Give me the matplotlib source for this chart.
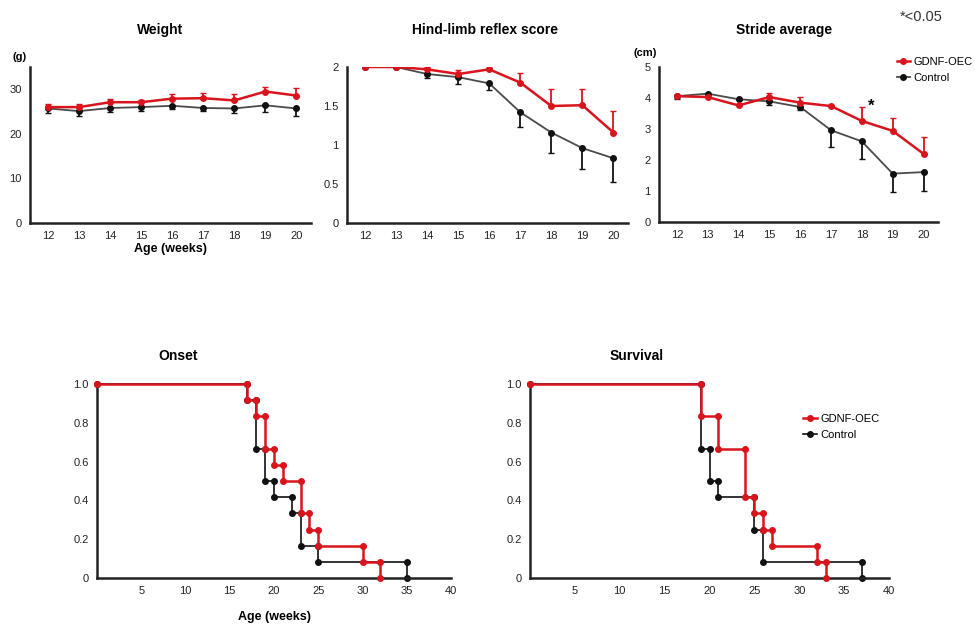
# Motor function and Kaplan-Meier curves, GDNF-OEC vs Control
import numpy as np
import matplotlib
matplotlib.use('Agg')
import matplotlib.pyplot as plt
from matplotlib.lines import Line2D

## data

weeks = [12, 13, 14, 15, 16, 17, 18, 19, 20]

weight_oec = [26.0, 26.0, 27.1, 27.1, 27.9, 28.0, 27.5, 29.5, 28.6]
weight_oec_err = [0.7, 0.7, 0.8, 0.6, 1.1, 1.1, 1.5, 1.0, 1.6]
weight_ctl = [25.7, 25.1, 25.8, 26.0, 26.3, 25.8, 25.7, 26.4, 25.7]
weight_ctl_err = [1.0, 1.0, 0.8, 0.9, 0.8, 0.7, 1.1, 1.5, 1.7]

reflex_oec = [2.0, 2.0, 1.97, 1.91, 1.97, 1.80, 1.50, 1.51, 1.16]
reflex_oec_err = [0, 0, 0.03, 0.05, 0.02, 0.12, 0.22, 0.21, 0.27]
reflex_ctl = [2.0, 2.0, 1.91, 1.87, 1.79, 1.42, 1.16, 0.96, 0.83]
reflex_ctl_err = [0, 0, 0.05, 0.09, 0.09, 0.19, 0.26, 0.27, 0.30]

stride_oec = [4.06, 4.03, 3.76, 4.03, 3.85, 3.74, 3.26, 2.94, 2.20]
stride_oec_err = [0.05, 0, 0, 0.13, 0.18, 0.05, 0.45, 0.43, 0.54]
stride_ctl = [4.06, 4.14, 3.96, 3.89, 3.71, 2.96, 2.60, 1.56, 1.61]
stride_ctl_err = [0.1, 0, 0, 0.1, 0.09, 0.54, 0.58, 0.59, 0.61]

# Kaplan-Meier steps: time of each drop, fraction after the drop
onset_oec_t = [0, 17, 18, 19, 20, 21, 23, 24, 25, 30, 32]
onset_oec_s = [1.0, 0.917, 0.833, 0.667, 0.583, 0.5, 0.333, 0.25, 0.167, 0.083, 0.0]
onset_ctl_t = [0, 17, 18, 19, 20, 22, 23, 25, 35]
onset_ctl_s = [1.0, 0.917, 0.667, 0.5, 0.417, 0.333, 0.167, 0.083, 0.0]

surv_oec_t = [0, 19, 21, 24, 25, 26, 27, 32, 33]
surv_oec_s = [1.0, 0.833, 0.667, 0.417, 0.333, 0.25, 0.167, 0.083, 0.0]
surv_ctl_t = [0, 19, 20, 21, 25, 26, 37]
surv_ctl_s = [1.0, 0.667, 0.5, 0.417, 0.25, 0.083, 0.0]

## style

RED = '#d8141c'
BLACK = '#111111'
GREY = '#4a4a4a'
W, H = 975, 627
plt.rcParams['font.family'] = ['Liberation Sans', 'DejaVu Sans']

fig = plt.figure(figsize=(W / 100, H / 100), dpi=100)


def px_axes(x0, y0, x1, y1):
    # axes from pixel box (top-left origin)
    return fig.add_axes([x0 / W, 1 - y1 / H, (x1 - x0) / W, (y1 - y0) / H])


def style(ax):
    for s in ['top', 'right']:
        ax.spines[s].set_visible(False)
    for s in ['left', 'bottom']:
        ax.spines[s].set_linewidth(1.8)
        ax.spines[s].set_color('#222222')
    ax.tick_params(length=0, labelsize=8, pad=6, colors='#222222')


def line_panel(ax, oec, oec_err, ctl, ctl_err):
    ax.errorbar(weeks, ctl, yerr=[ctl_err, [0] * len(ctl)], color=GREY, lw=1.3,
                marker='o', ms=4, mfc=BLACK, mec=BLACK, ecolor=BLACK,
                elinewidth=1.3, capsize=2.5, zorder=2)
    ax.errorbar(weeks, oec, yerr=[[0] * len(oec), oec_err], color=RED, lw=1.8,
                marker='o', ms=4, ecolor=RED, elinewidth=1.3, capsize=2.5,
                zorder=3)
    ax.set_xlim(11.42, 20.47)
    ax.set_xticks(weeks)
    style(ax)


leg_handles = [Line2D([], [], color=RED, lw=1.8, marker='o', ms=4),
               Line2D([], [], color=GREY, lw=1.3, marker='o', ms=4, mfc=BLACK, mec=BLACK)]
leg_labels = ['GDNF-OEC', 'Control']

# Weight
ax1 = px_axes(30, 67, 311, 223)
line_panel(ax1, weight_oec, weight_oec_err, weight_ctl, weight_ctl_err)
ax1.set_ylim(0, 35)
ax1.set_yticks([0, 10, 20, 30])
ax1.set_xlabel('Age (weeks)', fontsize=9, fontweight='bold', labelpad=1)
fig.text(160 / W, 1 - 30 / H, 'Weight', fontsize=10, fontweight='bold', ha='center', va='center')
fig.text(20 / W, 1 - 57 / H, '(g)', fontsize=8, fontweight='bold', ha='center', va='center')

# Hind-limb reflex score
ax2 = px_axes(347, 67, 628, 223)
line_panel(ax2, reflex_oec, reflex_oec_err, reflex_ctl, reflex_ctl_err)
ax2.set_ylim(0, 2.0)
ax2.set_yticks([0, 0.5, 1, 1.5, 2])
ax2.set_yticklabels(['0', '0.5', '1', '1.5', '2'])
fig.text(485 / W, 1 - 30 / H, 'Hind-limb reflex score', fontsize=10, fontweight='bold', ha='center', va='center')

# Stride average
ax3 = px_axes(659, 67, 938, 222)
line_panel(ax3, stride_oec, stride_oec_err, stride_ctl, stride_ctl_err)
ax3.set_ylim(0, 5)
ax3.set_yticks([0, 1, 2, 3, 4, 5])
ax3.text(18.3, 3.72, '*', fontsize=12, fontweight='bold', ha='center', va='center')
fig.text(784 / W, 1 - 30 / H, 'Stride average', fontsize=10, fontweight='bold', ha='center', va='center')
fig.text(645 / W, 1 - 53 / H, '(cm)', fontsize=8, fontweight='bold', ha='center', va='center')
fig.text(921 / W, 1 - 17 / H, '*<0.05', fontsize=10.5, ha='center', va='center', color='#333333')
fig.legend(leg_handles, leg_labels, loc='upper left', bbox_to_anchor=(891 / W, 1 - 51 / H),
           frameon=False, fontsize=8, handlelength=1.2, handletextpad=0.3,
           labelspacing=0.6, borderpad=0)


def km_panel(ax, oec_t, oec_s, ctl_t, ctl_s):
    for t, s, c, lw, z in [(ctl_t, ctl_s, BLACK, 1.2, 2),
                           (oec_t, oec_s, RED, 1.8, 3)]:
        ax.step(t, s, where='post', color=c, lw=lw, zorder=z)
        # dots at both corners of each drop
        xs = [t[0]] + [v for v in t[1:] for _ in range(2)]
        ys = [s[0]] + [y for i in range(1, len(t)) for y in (s[i - 1], s[i])]
        ax.plot(xs, ys, 'o', color=c, ms=4, zorder=z)
    ax.set_xlim(0, 40)
    ax.set_ylim(0, 1.0)
    ax.set_xticks([5, 10, 15, 20, 25, 30, 35, 40])
    ax.set_yticks([0, 0.2, 0.4, 0.6, 0.8, 1.0])
    ax.set_yticklabels(['0', '0.2', '0.4', '0.6', '0.8', '1.0'])
    style(ax)
    for art in ax.lines:
        art.set_clip_on(False)


km_handles = [Line2D([], [], color=RED, lw=1.8, marker='o', ms=4),
              Line2D([], [], color=BLACK, lw=1.2, marker='o', ms=4)]

# Onset
ax4 = px_axes(97, 384, 451, 578)
km_panel(ax4, onset_oec_t, onset_oec_s, onset_ctl_t, onset_ctl_s)
fig.text(178 / W, 1 - 356 / H, 'Onset', fontsize=10, fontweight='bold', ha='center', va='center')
fig.text(275 / W, 1 - 617 / H, 'Age (weeks)', fontsize=9, fontweight='bold', ha='center', va='center')

# Survival
ax5 = px_axes(530, 384, 889, 578)
km_panel(ax5, surv_oec_t, surv_oec_s, surv_ctl_t, surv_ctl_s)
fig.text(637 / W, 1 - 356 / H, 'Survival', fontsize=10, fontweight='bold', ha='center', va='center')
fig.legend(km_handles, leg_labels, loc='upper left', bbox_to_anchor=(797 / W, 1 - 408 / H),
           frameon=False, fontsize=8, handlelength=1.3, handletextpad=0.3,
           labelspacing=0.6, borderpad=0)

fig.savefig('out.png', dpi=100)
